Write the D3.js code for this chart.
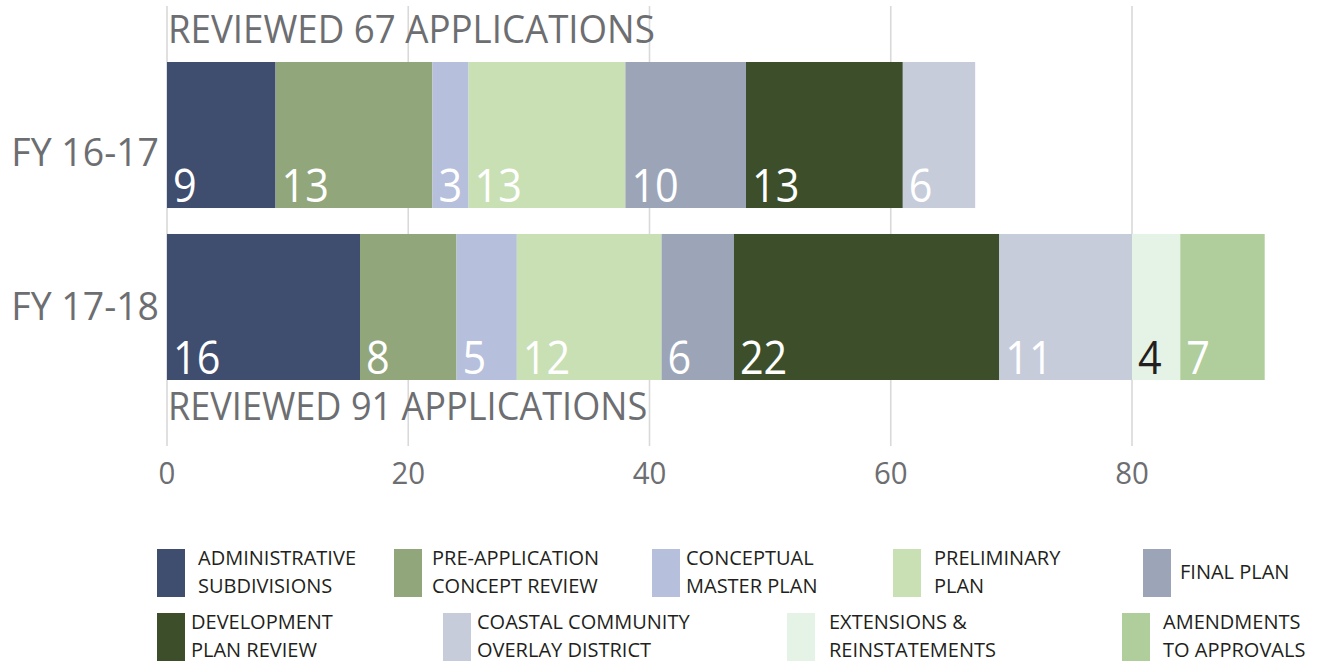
<!DOCTYPE html>
<html><head><meta charset="utf-8">
<script src="https://cdn.jsdelivr.net/npm/d3@7"></script>
<style>html,body{margin:0;padding:0;background:#fff;}svg{display:block;}</style>
</head><body>
<svg id="chart" width="1322" height="661"></svg>
<script>
// ---- data ----
const years = ["FY 16-17", "FY 17-18"];
const titles = ["REVIEWED 67 APPLICATIONS", "REVIEWED 91 APPLICATIONS"];
const seriesKeys = ["admin", "preapp", "concept", "prelim", "final", "devplan", "coastal", "ext", "amend"];
const seriesNames = [
  ["ADMINISTRATIVE", "SUBDIVISIONS"],
  ["PRE-APPLICATION", "CONCEPT REVIEW"],
  ["CONCEPTUAL", "MASTER PLAN"],
  ["PRELIMINARY", "PLAN"],
  ["FINAL PLAN"],
  ["DEVELOPMENT", "PLAN REVIEW"],
  ["COASTAL COMMUNITY", "OVERLAY DISTRICT"],
  ["EXTENSIONS &", "REINSTATEMENTS"],
  ["AMENDMENTS", "TO APPROVALS"]
];
const fy1617 = [9, 13, 3, 13, 10, 13, 6, 0, 0];
const fy1718 = [16, 8, 5, 12, 6, 22, 11, 4, 7];
const tickValues = [0, 20, 40, 60, 80];

// ---- styles ----
const colors = ["#3f4d6e", "#92a67c", "#b6bfdc", "#c9e0b5", "#9ca5b8", "#3c4f2a", "#c6ccda", "#e5f3e6", "#b0cd9c"];
const labelColors = ["#fff", "#fff", "#fff", "#fff", "#fff", "#fff", "#fff", "#231f20", "#fff"];
const grey = "#6d6e71";
const FONT = "'Open Sans', 'DejaVu Sans', sans-serif";

// legend layout: [swatchX, textX, row]
const legendLayout = [
  [157, 198, 0], [394, 432, 0], [652, 686, 0], [893, 934, 0], [1143, 1180, 0],
  [157, 191, 1], [443, 477, 1], [787, 829, 1], [1122, 1163, 1]
];

const rows = years.map((y, i) => {
  const vals = i === 0 ? fy1617 : fy1718;
  const o = {year: y};
  seriesKeys.forEach((k, j) => o[k] = vals[j]);
  return o;
});

const svg = d3.select("#chart");
const x = d3.scaleLinear().domain([0, 80]).range([167, 1132]);
const y = d3.scaleBand().domain(years).range([62, 380]).paddingInner(0.151).paddingOuter(0);

// condensed text helper
function ctext(parent, tx, ty, str, size, fill, sx, anchor) {
  const g = parent.append("g").attr("transform", `translate(${tx},${ty}) scale(${sx},1)`);
  return g.append("text").attr("x", 0).attr("y", 0)
    .attr("font-family", FONT).attr("font-size", size).attr("fill", fill)
    .attr("text-anchor", anchor || "start").text(str);
}

// gridlines
svg.append("g").selectAll("line").data(tickValues).join("line")
  .attr("x1", d => x(d)).attr("x2", d => x(d))
  .attr("y1", 6).attr("y2", 446)
  .attr("stroke", "#d9d9d9").attr("stroke-width", 1.6);

// tick labels
const tickG = svg.append("g");
tickValues.forEach(t => ctext(tickG, x(t), 484, String(t), 31, grey, 0.95, "middle"));

// stacked bars
const stack = d3.stack().keys(seriesKeys)(rows);
const barG = svg.append("g");
stack.forEach((layer, si) => {
  layer.forEach(d => {
    const v = d[1] - d[0];
    if (v <= 0) return;
    barG.append("rect")
      .attr("x", x(d[0])).attr("y", y(d.data.year))
      .attr("width", x(d[1]) - x(d[0])).attr("height", y.bandwidth())
      .attr("fill", colors[si]);
  });
});
// value labels
const valG = svg.append("g");
stack.forEach((layer, si) => {
  layer.forEach(d => {
    const v = d[1] - d[0];
    if (v <= 0) return;
    ctext(valG, x(d[0]) + 6, y(d.data.year) + y.bandwidth() - 6, String(v), 46, labelColors[si], 0.9);
  });
});

// year labels
const yLabelDy = [31, 13];
years.forEach((yr, i) => {
  ctext(svg, 159, y(yr) + y.bandwidth() / 2 + yLabelDy[i], yr, 39, grey, 0.96, "end");
});

// titles
ctext(svg, 168, y(years[0]) - 19, titles[0], 38, grey, 0.965);
ctext(svg, 168, y(years[1]) + y.bandwidth() + 40, titles[1], 38, grey, 0.95);

// legend
const legG = svg.append("g");
seriesKeys.forEach((k, i) => {
  const [sx, tx, row] = legendLayout[i];
  const top = row === 0 ? 549 : 613;
  legG.append("rect").attr("x", sx).attr("y", top).attr("width", 28).attr("height", 48).attr("fill", colors[i]);
  const lines = seriesNames[i];
  if (lines.length === 1) {
    ctext(legG, tx, top + 30, lines[0], 20, "#231f20", 1);
  } else {
    lines.forEach((ln, li) => ctext(legG, tx, top + 16 + li * 28, ln, 20, "#231f20", 1));
  }
});
</script>
</body></html>
